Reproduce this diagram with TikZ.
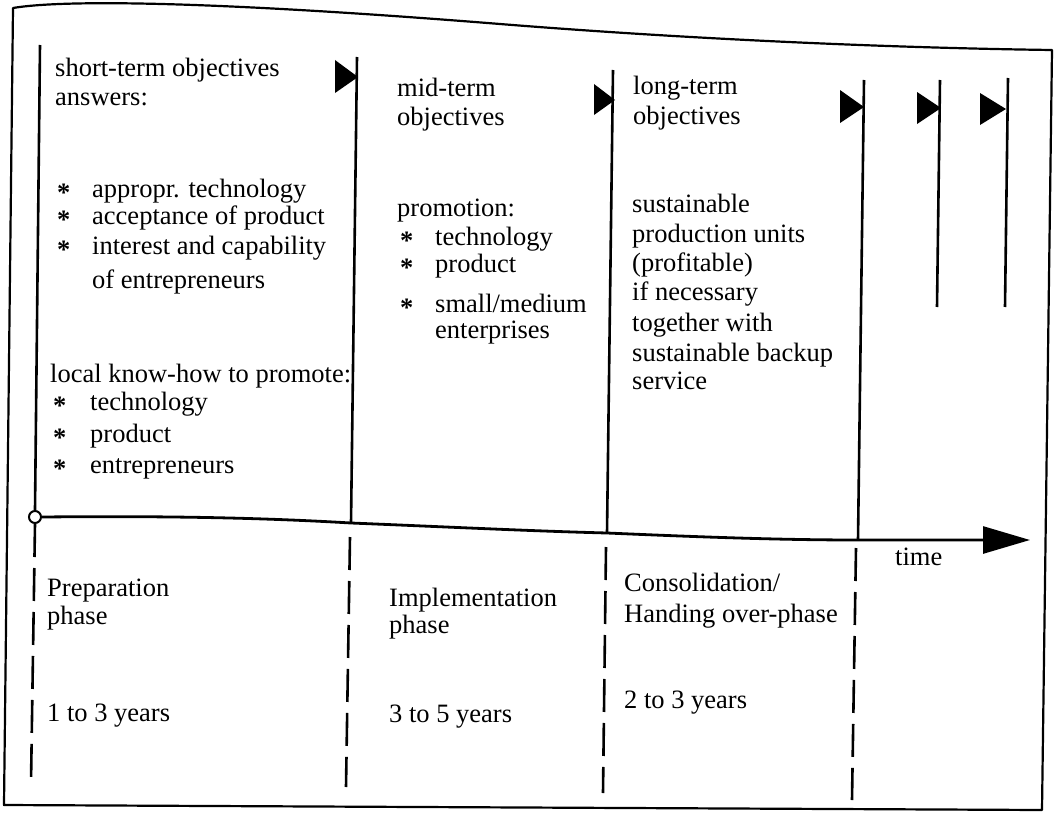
\documentclass[tikz,border=0pt]{standalone}
\usepackage{fontspec}
\setmainfont{Liberation Serif}
\usetikzlibrary{arrows.meta}
% bullet: asterisk followed by a fixed indent
\newcommand\bul[1][35pt]{\makebox[#1][l]{\raisebox{-4pt}{\textbf{*}}}}
\begin{document}
\begin{tikzpicture}[x=1pt,y=-1pt,
  frame/.style={line width=2.2pt,line join=round},
  pole/.style={line width=2.6pt},
  dpole/.style={line width=2.6pt,dash pattern=on 33pt off 11pt},
  flag/.style={fill=black,draw=none},
  axis/.style={line width=2.8pt,-{Triangle[length=47pt,width=27pt]}},
  txt/.style={anchor=base west,inner sep=0pt,font=\fontsize{26.5}{29}\selectfont}]
\useasboundingbox (0,0) rectangle (1055,816);

% outer frame with its slightly bowed top edge
\draw[frame] (4,805) -- (13,8) .. controls (60,0) and (200,0) .. (500,24)
  .. controls (700,40) and (900,48) .. (1052,50) -- (1042,810) -- cycle;

% time axis
\node[circle,draw,fill=white,line width=2pt,minimum size=12pt,inner sep=0pt] (o) at (35,517) {};
\coordinate (a2) at (351,523);
\coordinate (a3) at (607,533);
\coordinate (a4) at (858,540);
\coordinate (tend) at (1030,540);
\draw[axis] (o.east) .. controls (150,516) and (250,517) .. (a2)
  .. controls (450,527) and (530,531) .. (a3)
  .. controls (700,537) and (780,540) .. (a4) -- (tend);

% poles with flags
\coordinate (p1) at (40,45);
\coordinate (p2) at (357,57);
\coordinate (p3) at (613,70);
\coordinate (p4) at (864,80);
\coordinate (p5t) at (940,80);   \coordinate (p5b) at (937,307);
\coordinate (p6t) at (1008,78);  \coordinate (p6b) at (1005,307);
\draw[pole] (p1) -- (o.north);
\draw[pole] (p2) -- (a2);
\draw[pole] (p3) -- (a3);
\draw[pole] (p4) -- (a4);
\draw[pole] (p5t) -- (p5b);
\draw[pole] (p6t) -- (p6b);
\fill[flag] (335,60) -- (358,77) -- (335,93) -- cycle;
\fill[flag] (594,84) -- (615,100) -- (594,115) -- cycle;
\fill[flag] (840,90) -- (864,107) -- (840,123) -- cycle;
\fill[flag] (917,92) -- (941,108) -- (917,124) -- cycle;
\fill[flag] (980,93) -- (1006,109) -- (980,125) -- cycle;

% dashed phase boundaries
\coordinate (d1) at (31,783);
\coordinate (d2t) at (350,537); \coordinate (d2) at (346,787);
\coordinate (d3t) at (606,547); \coordinate (d3) at (603,793);
\coordinate (d4t) at (856,548); \coordinate (d4) at (852,800);
\draw[dpole] (o.south) -- (d1);
\draw[dpole] (d2t) -- (d2);
\draw[dpole] (d3t) -- (d3);
\draw[dpole] (d4t) -- (d4);

% short-term column
\node[txt] (s1) at (55,77) {short-term objectives};
\node[txt] (s2) at (55,106) {answers:};
\node[txt] (s3) at (57,197) {\bul appropr. technology};
\node[txt] (s4) at (57,224) {\bul acceptance of product};
\node[txt] (s5) at (57,254) {\bul interest and capability};
\node[txt] (s6) at (92,288) {of entrepreneurs};
\node[txt] (s7) at (50,382) {local know-how to promote:};
\node[txt] (s8) at (53,410) {\bul[37pt]technology};
\node[txt] (s9) at (53,442) {\bul[37pt]product};
\node[txt] (s10) at (53,473) {\bul[37pt]entrepreneurs};

% mid-term column
\node[txt] (m1) at (397,96) {mid-term};
\node[txt] (m2) at (397,125) {objectives};
\node[txt] (m3) at (397,216) {promotion:};
\node[txt] (m4) at (400,245) {\bul technology};
\node[txt] (m5) at (400,272) {\bul product};
\node[txt] (m6) at (400,312) {\bul small/medium};
\node[txt] (m7) at (435,338) {enterprises};

% long-term column
\node[txt] (l1) at (633,95) {long-term};
\node[txt] (l2) at (633,124) {objectives};
\node[txt] (l3) at (632,212) {sustainable};
\node[txt] (l4) at (632,242) {production units};
\node[txt] (l5) at (632,271) {(profitable)};
\node[txt] (l6) at (632,300) {if necessary};
\node[txt] (l7) at (632,331) {together with};
\node[txt] (l8) at (632,361) {sustainable backup};
\node[txt] (l9) at (632,389) {service};

% phases below the axis
\node[txt] (time) at (895,565) {time};
\node[txt] (ph1a) at (47,596) {Preparation};
\node[txt] (ph1b) at (47,624) {phase};
\node[txt] (ph1c) at (47,721) {1 to 3 years};
\node[txt] (ph2a) at (389,606) {Implementation};
\node[txt] (ph2b) at (389,633) {phase};
\node[txt] (ph2c) at (389,722) {3 to 5 years};
\node[txt] (ph3a) at (624,591) {Consolidation/};
\node[txt] (ph3b) at (624,622) {Handing over-phase};
\node[txt] (ph3c) at (624,708) {2 to 3 years};
\end{tikzpicture}
\end{document}
